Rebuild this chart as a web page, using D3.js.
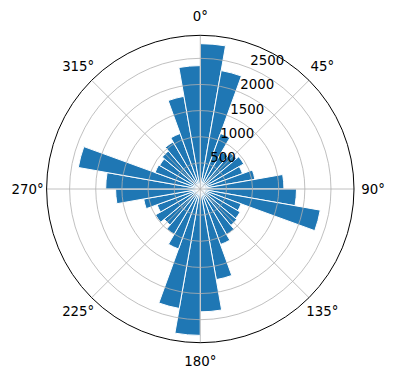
<!DOCTYPE html>
<html>
<head>
<meta charset="utf-8">
<script src="https://cdn.jsdelivr.net/npm/d3@7"></script>
<style>
  body { margin: 0; background: #fff; }
  svg { display: block; font-family: "DejaVu Sans", sans-serif; }
</style>
</head>
<body>
<svg id="chart"></svg>
<script>
// direction bins (degrees, clockwise from north) and their counts
const binStarts = [0, 10, 20, 30, 40, 50, 60, 70, 80,
                   90, 100, 110, 120, 130, 140, 150, 160, 170,
                   180, 190, 200, 210, 220, 230, 240, 250, 260,
                   270, 280, 290, 300, 310, 320, 330, 340, 350];
const counts = [2780, 2300, 1130, 820, 900, 960, 860, 1060, 1600,
                1840, 2330, 830, 880, 910, 1010, 1130, 1760, 2350,
                2800, 2320, 1220, 1000, 900, 990, 880, 1100, 1620,
                1810, 2370, 920, 900, 950, 1040, 1130, 1800, 2360];
const binWidth = 10;

const radialTicks = [500, 1000, 1500, 2000, 2500];
const angleTicks = [0, 45, 90, 135, 180, 225, 270, 315];
const angleLabels = ['0°', '45°', '90°', '135°', '180°', '225°', '270°', '315°'];

class PolarBar {

  constructor(_config) {
    this.config = {
      parentElement: _config.parentElement,
      containerWidth: _config.containerWidth || 396,
      containerHeight: _config.containerHeight || 380,
      cx: _config.cx,
      cy: _config.cy,
      radius: _config.radius
    };
    this.initVis();
  }

  initVis() {
    let vis = this;

    vis.svg = d3.select(vis.config.parentElement)
        .attr('width', vis.config.containerWidth)
        .attr('height', vis.config.containerHeight);

    vis.chart = vis.svg.append('g')
        .attr('transform', `translate(${vis.config.cx},${vis.config.cy})`);

    // matplotlib pads the radial limit by 5% of the data range
    vis.rScale = d3.scaleLinear()
        .domain([0, d3.max(counts) * 1.05])
        .range([0, vis.config.radius]);

    vis.angle = d => d * Math.PI / 180;

    vis.arc = d3.arc()
        .innerRadius(0)
        .outerRadius(d => vis.rScale(d.value))
        .startAngle(d => vis.angle(d.start))
        .endAngle(d => vis.angle(d.start + binWidth));

    vis.barsG = vis.chart.append('g');
    vis.gridG = vis.chart.append('g');
    vis.labelG = vis.chart.append('g');
  }

  updateVis() {
    let vis = this;
    vis.data = binStarts.map((s, i) => ({ start: s, value: counts[i] }));
    vis.renderVis();
  }

  renderVis() {
    let vis = this;
    const R = vis.config.radius;

    vis.barsG.selectAll('.bar')
        .data(vis.data)
      .join('path')
        .attr('class', 'bar')
        .attr('d', vis.arc)
        .attr('fill', '#1f77b4')
        .attr('stroke', '#ffffff')
        .attr('stroke-width', 1);

    // grid sits on top of the bars, like matplotlib
    vis.gridG.selectAll('.ring')
        .data(radialTicks)
      .join('circle')
        .attr('class', 'ring')
        .attr('r', d => vis.rScale(d))
        .attr('fill', 'none')
        .attr('stroke', '#b0b0b0')
        .attr('stroke-width', 0.8);

    vis.gridG.selectAll('.spoke')
        .data(angleTicks)
      .join('line')
        .attr('class', 'spoke')
        .attr('x2', d => R * Math.sin(vis.angle(d)))
        .attr('y2', d => -R * Math.cos(vis.angle(d)))
        .attr('stroke', '#b0b0b0')
        .attr('stroke-width', 0.8);

    vis.gridG.append('circle')
        .attr('r', R)
        .attr('fill', 'none')
        .attr('stroke', '#000')
        .attr('stroke-width', 1);

    // radial tick labels at 22.5 deg, anchored bottom-left on the ring
    const la = vis.angle(22.5);
    vis.labelG.selectAll('.rlabel')
        .data(radialTicks)
      .join('text')
        .attr('class', 'rlabel')
        .attr('x', d => vis.rScale(d) * Math.sin(la))
        .attr('y', d => -vis.rScale(d) * Math.cos(la) - 3)
        .attr('font-size', '13.33px')
        .attr('fill', '#000')
        .text(d => d);

    vis.labelG.selectAll('.alabel')
        .data(angleTicks)
      .join('text')
        .attr('class', 'alabel')
        .attr('x', d => (R + 19) * Math.sin(vis.angle(d)))
        .attr('y', d => -(R + 19) * Math.cos(vis.angle(d)))
        .attr('text-anchor', 'middle')
        .attr('dominant-baseline', 'central')
        .attr('font-size', '13.33px')
        .attr('fill', '#000')
        .text((d, i) => angleLabels[i]);
  }
}

const chart = new PolarBar({ parentElement: '#chart', cx: 200.3, cy: 189, radius: 153.7 });
chart.updateVis();
</script>
</body>
</html>
